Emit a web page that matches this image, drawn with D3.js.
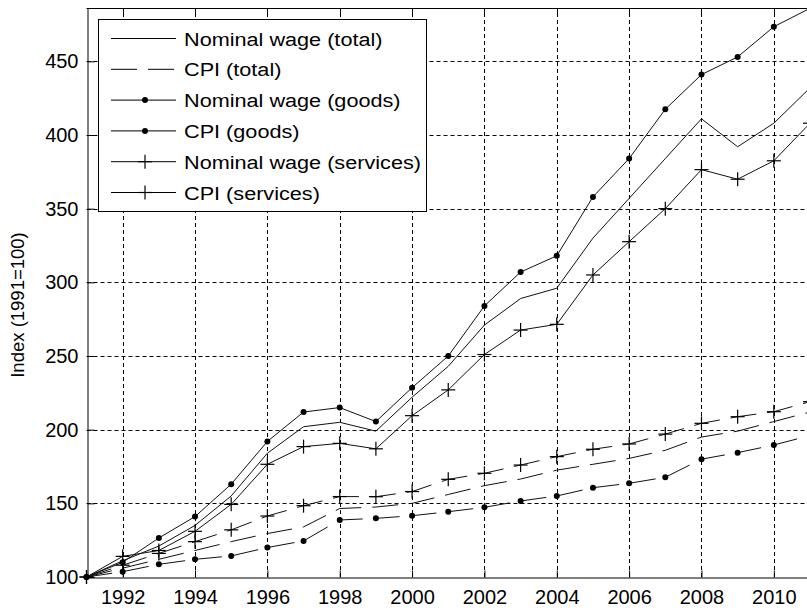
<!DOCTYPE html>
<html>
<head>
<meta charset="utf-8">
<script src="https://d3js.org/d3.v7.min.js"></script>
<style>
  body { margin: 0; background: #fff; }
  svg { display: block; }
  text { font-family: "Liberation Sans", Arial, sans-serif; fill: #000; }
</style>
</head>
<body>
<div id="chart"></div>
<script>
// --- Data (index, 1991 = 100) ---
const years = [1991, 1992, 1993, 1994, 1995, 1996, 1997, 1998, 1999, 2000,
               2001, 2002, 2003, 2004, 2005, 2006, 2007, 2008, 2009, 2010, 2011];

const wageTotal    = [100, 111, 121, 135, 155, 184, 202, 205, 199, 222, 243, 271, 289, 296, 330, 357, 384, 411, 392, 408, 432];
const cpiTotal     = [100, 106, 112, 118, 124, 129.5, 134, 146.5, 147.5, 150, 156, 162, 166.5, 172.5, 176.5, 180.5, 186, 195, 199, 205.5, 212];
const wageGoods    = [100, 110, 126.5, 141, 163, 192, 212, 215, 205.5, 228.5, 250, 284, 307, 318, 358, 384, 417.5, 441, 453, 473.5, 486];
const cpiGoods     = [100, 103.6, 108.6, 112, 114.3, 120, 124.5, 138.7, 139.8, 141.6, 144.3, 147.3, 151.6, 155, 160.6, 163.6, 167.7, 180, 184.4, 189.6, 196];
const wageServices = [100, 114, 118, 131, 149.3, 176.5, 188.5, 190.7, 187, 209.5, 227, 251, 267.6, 271.5, 305, 327.6, 350, 376.5, 370, 382.5, 408];
const cpiServices  = [100, 108, 116, 124, 132, 141.4, 148.4, 154.6, 154.5, 158, 166.3, 170.4, 176, 181.7, 186.7, 190.3, 197, 204.3, 208.8, 212.2, 219];

const xTicks = [1992, 1994, 1996, 1998, 2000, 2002, 2004, 2006, 2008, 2010];
const yTicks = [100, 150, 200, 250, 300, 350, 400, 450];

const series = [
  { name: "Nominal wage (total)",    values: wageTotal,    dash: null,    marker: null,   legendDash: null },
  { name: "CPI (total)",             values: cpiTotal,     dash: "26,11", marker: null,   legendDash: "26,11" },
  { name: "Nominal wage (goods)",    values: wageGoods,    dash: null,    marker: "dot",  legendDash: null },
  { name: "CPI (goods)",             values: cpiGoods,     dash: "26,11", marker: "dot",  legendDash: null },
  { name: "Nominal wage (services)", values: wageServices, dash: null,    marker: "plus", legendDash: null },
  { name: "CPI (services)",          values: cpiServices,  dash: "26,11", marker: "plus", legendDash: null }
];

// --- SVG setup ---
const width = 807, height = 610;
const svg = d3.select("#chart").append("svg")
  .attr("width", width)
  .attr("height", height);

const x = d3.scaleLinear().domain([1991, 2011]).range([86.5, 810]);
const y = d3.scaleLinear().domain([100, 486]).range([577, 8.3]);

const plotLeft = x(1991), plotRight = x(2011), plotTop = y(486), plotBottom = y(100);

// --- Grid (dashed) ---
const grid = svg.append("g").attr("class", "grid")
  .attr("stroke", "#000").attr("stroke-width", 1).attr("stroke-dasharray", "4,3");

grid.selectAll("line.gx")
  .data(xTicks)
  .join("line")
  .attr("class", "gx")
  .attr("x1", d => Math.round(x(d)) + 0.5).attr("x2", d => Math.round(x(d)) + 0.5)
  .attr("y1", plotBottom).attr("y2", plotTop);

grid.selectAll("line.gy")
  .data(yTicks.filter(d => d > 100))
  .join("line")
  .attr("class", "gy")
  .attr("x1", plotLeft).attr("x2", plotRight)
  .attr("y1", d => Math.round(y(d)) + 0.5).attr("y2", d => Math.round(y(d)) + 0.5);

// --- Axes (MATLAB style, ticks inside) ---
const xAxis = d3.axisBottom(x).tickValues(xTicks).tickFormat(d3.format("d")).tickSizeInner(-7).tickSizeOuter(0).tickPadding(12);
const yAxis = d3.axisLeft(y).tickValues(yTicks).tickSizeInner(-7).tickSizeOuter(0).tickPadding(9);

const gx = svg.append("g")
  .attr("transform", `translate(0,${Math.round(plotBottom) + 0.5})`)
  .call(xAxis);
const gy = svg.append("g")
  .attr("transform", `translate(${Math.round(plotLeft) + 0.5},0)`)
  .call(yAxis);

[gx, gy].forEach(g => {
  g.select(".domain").attr("stroke", "#000");
  g.selectAll(".tick line").attr("stroke", "#000");
  g.selectAll(".tick text").attr("font-size", 20).attr("font-family", "Liberation Sans, Arial, sans-serif").attr("fill", "#000");
});
gx.selectAll(".tick text").attr("dy", "0.71em");

// top ticks
svg.append("g").selectAll("line")
  .data(xTicks)
  .join("line")
  .attr("x1", d => Math.round(x(d)) + 0.5).attr("x2", d => Math.round(x(d)) + 0.5)
  .attr("y1", Math.round(plotTop) + 0.5).attr("y2", Math.round(plotTop) + 7.5)
  .attr("stroke", "#000");

// top frame line
svg.append("line")
  .attr("x1", plotLeft).attr("x2", plotRight)
  .attr("y1", Math.round(plotTop) + 0.5).attr("y2", Math.round(plotTop) + 0.5)
  .attr("stroke", "#000");

// --- Y label ---
svg.append("text")
  .attr("transform", `translate(24,305) rotate(-90)`)
  .attr("text-anchor", "middle")
  .attr("font-size", 18.5)
  .text("Index (1991=100)");

// --- Lines ---
const line = d3.line()
  .x((d, i) => x(years[i]))
  .y(d => y(d));

const lines = svg.append("g").attr("class", "lines");

series.forEach(s => {
  lines.append("path")
    .datum(s.values)
    .attr("fill", "none")
    .attr("stroke", "#111")
    .attr("stroke-width", 1)
    .attr("stroke-dasharray", s.dash)
    .attr("d", line);

  drawMarkers(lines, s.marker, s.values.map((v, i) => [x(years[i]), y(v)]));
});

function drawMarkers(g, type, pts) {
  if (type === "dot") {
    g.append("g").selectAll("circle")
      .data(pts)
      .join("circle")
      .attr("cx", d => d[0]).attr("cy", d => d[1])
      .attr("r", 3)
      .attr("fill", "#000");
  } else if (type === "plus") {
    const p = g.append("g").attr("stroke", "#000").attr("stroke-width", 1.2);
    p.selectAll("line.h")
      .data(pts)
      .join("line")
      .attr("class", "h")
      .attr("x1", d => d[0] - 7).attr("x2", d => d[0] + 7)
      .attr("y1", d => d[1]).attr("y2", d => d[1]);
    p.selectAll("line.v")
      .data(pts)
      .join("line")
      .attr("class", "v")
      .attr("x1", d => d[0]).attr("x2", d => d[0])
      .attr("y1", d => d[1] - 7).attr("y2", d => d[1] + 7);
  }
}

// --- Legend ---
const legend = svg.append("g").attr("class", "legend");
legend.append("rect")
  .attr("x", 98.5).attr("y", 19.5)
  .attr("width", 328).attr("height", 192)
  .attr("fill", "#fff")
  .attr("stroke", "#000");

series.forEach((s, i) => {
  const ly = 38.5 + i * 30.8;
  legend.append("line")
    .attr("x1", 111).attr("x2", 176)
    .attr("y1", ly).attr("y2", ly)
    .attr("stroke", "#000")
    .attr("stroke-dasharray", s.legendDash);
  drawMarkers(legend, s.marker, [[145, ly]]);
  // reference glyphs are rendered wider than Liberation Sans
  legend.append("text")
    .attr("transform", `translate(184,${ly + 7}) scale(1.14,1)`)
    .attr("font-size", 19)
    .text(s.name);
});
</script>
</body>
</html>
